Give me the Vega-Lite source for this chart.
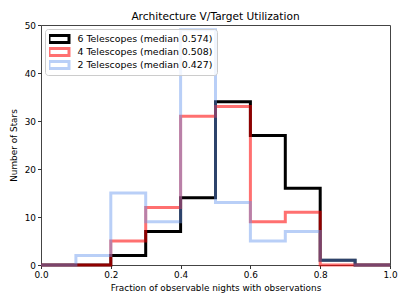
{
  "$schema": "https://vega.github.io/schema/vega-lite/v6.json",
  "autosize": "none",
  "width": 349,
  "height": 240,
  "padding": {"left": 41, "top": 25, "right": 17, "bottom": 40},
  "background": "white",
  "title": {"text": "Architecture V/Target Utilization", "font": "DejaVu Sans", "fontSize": 10.6, "fontWeight": "normal", "color": "black", "offset": -2},
  "config": {
    "view": {"stroke": "#444", "strokeWidth": 1},
    "axis": {"labelFont": "DejaVu Sans", "titleFont": "DejaVu Sans", "labelFontSize": 8.9, "titleFontSize": 8.9, "titleFontWeight": "normal", "labelColor": "black", "titleColor": "black", "tickColor": "#333", "domain": false, "grid": false, "tickSize": 3.5, "labelFlush": false}
  },
  "data": {"values": [
    {"tel": "6 Telescopes (median 0.574)", "x": 0.0, "n": 0},
    {"tel": "6 Telescopes (median 0.574)", "x": 0.1, "n": 0},
    {"tel": "6 Telescopes (median 0.574)", "x": 0.2, "n": 2},
    {"tel": "6 Telescopes (median 0.574)", "x": 0.3, "n": 7},
    {"tel": "6 Telescopes (median 0.574)", "x": 0.4, "n": 14},
    {"tel": "6 Telescopes (median 0.574)", "x": 0.5, "n": 34},
    {"tel": "6 Telescopes (median 0.574)", "x": 0.6, "n": 27},
    {"tel": "6 Telescopes (median 0.574)", "x": 0.7, "n": 16},
    {"tel": "6 Telescopes (median 0.574)", "x": 0.8, "n": 1},
    {"tel": "6 Telescopes (median 0.574)", "x": 0.9, "n": 0},
    {"tel": "6 Telescopes (median 0.574)", "x": 1.0, "n": 0},
    {"tel": "4 Telescopes (median 0.508)", "x": 0.0, "n": 0},
    {"tel": "4 Telescopes (median 0.508)", "x": 0.1, "n": 0},
    {"tel": "4 Telescopes (median 0.508)", "x": 0.2, "n": 5},
    {"tel": "4 Telescopes (median 0.508)", "x": 0.3, "n": 12},
    {"tel": "4 Telescopes (median 0.508)", "x": 0.4, "n": 31},
    {"tel": "4 Telescopes (median 0.508)", "x": 0.5, "n": 33},
    {"tel": "4 Telescopes (median 0.508)", "x": 0.6, "n": 9},
    {"tel": "4 Telescopes (median 0.508)", "x": 0.7, "n": 11},
    {"tel": "4 Telescopes (median 0.508)", "x": 0.8, "n": 0},
    {"tel": "4 Telescopes (median 0.508)", "x": 0.9, "n": 0},
    {"tel": "4 Telescopes (median 0.508)", "x": 1.0, "n": 0},
    {"tel": "2 Telescopes (median 0.427)", "x": 0.0, "n": 0},
    {"tel": "2 Telescopes (median 0.427)", "x": 0.1, "n": 2},
    {"tel": "2 Telescopes (median 0.427)", "x": 0.2, "n": 15},
    {"tel": "2 Telescopes (median 0.427)", "x": 0.3, "n": 9},
    {"tel": "2 Telescopes (median 0.427)", "x": 0.4, "n": 49},
    {"tel": "2 Telescopes (median 0.427)", "x": 0.5, "n": 13},
    {"tel": "2 Telescopes (median 0.427)", "x": 0.6, "n": 5},
    {"tel": "2 Telescopes (median 0.427)", "x": 0.7, "n": 7},
    {"tel": "2 Telescopes (median 0.427)", "x": 0.8, "n": 1},
    {"tel": "2 Telescopes (median 0.427)", "x": 0.9, "n": 0},
    {"tel": "2 Telescopes (median 0.427)", "x": 1.0, "n": 0}
  ]},
  "mark": {"type": "line", "interpolate": "step-after", "strokeWidth": 3, "strokeJoin": "miter", "clip": false},
  "encoding": {
    "x": {"field": "x", "type": "quantitative", "scale": {"domain": [0, 1], "nice": false, "zero": false},
      "axis": {"title": "Fraction of observable nights with observations", "values": [0, 0.2, 0.4, 0.6, 0.8, 1.0], "format": ".1f", "labelPadding": 2, "titlePadding": 4}},
    "y": {"field": "n", "type": "quantitative", "scale": {"domain": [0, 50], "nice": false},
      "axis": {"title": "Number of Stars", "values": [0, 10, 20, 30, 40, 50], "labelPadding": 2, "titlePadding": 6}},
    "color": {"field": "tel", "type": "nominal",
      "scale": {"domain": ["6 Telescopes (median 0.574)", "4 Telescopes (median 0.508)", "2 Telescopes (median 0.427)"], "range": ["#000000", "rgba(255,0,0,0.56)", "rgba(100,149,237,0.45)"]},
      "legend": {"title": null, "orient": "top-left", "offset": 4, "padding": 4, "fillColor": "rgba(255,255,255,0.8)", "strokeColor": "#cccccc", "cornerRadius": 3,
        "symbolType": "M-1.667,-0.6H1.667V0.6H-1.667Z", "symbolSize": 144, "symbolStrokeWidth": 3, "symbolOffset": 2.5, "clipHeight": 12,
        "labelFont": "DejaVu Sans", "labelFontSize": 9.4, "labelColor": "black", "rowPadding": 1, "labelOffset": 11}}
  }
}
